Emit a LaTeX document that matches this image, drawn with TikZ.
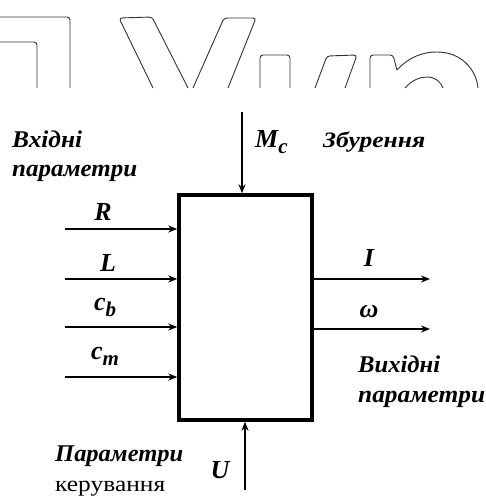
\documentclass[tikz,border=0pt]{standalone}
\usepackage{fontspec}
\usepackage{graphicx}
\setmainfont{Liberation Serif}
\usetikzlibrary{arrows.meta}
\newcommand{\fitw}[2]{\resizebox{#1}{\height}{#2}}
\tikzset{
  arr/.style={line width=2.2pt, -{Stealth[length=9pt,width=7pt]}},
  varr/.style={line width=1.5pt, -{Stealth[length=9pt,width=7pt]}},
  sym/.style={font=\fontsize{26}{28}\selectfont\bfseries\itshape, inner sep=0pt},
  lbl/.style={font=\fontsize{24}{26}\selectfont\bfseries\itshape, inner sep=0pt, anchor=base west},
  outl/.style={line width=0.9pt, draw=black!80, rounded corners=3pt},
}
\begin{document}
\begin{tikzpicture}[x=1pt,y=-1pt]
\fill[white] (0,0) rectangle (486,497);
\useasboundingbox (0,0) rectangle (486,497);
% cropped outline lettering at the top
\draw[outl] (0,17) -- (70,17) -- (70,88);
\draw[outl] (0,42) -- (37,42) -- (37,88);
\draw[outl] (153,88) -- (119,18) -- (152,17) -- (188,88);
\draw[outl] (193,88) -- (224,18) -- (256,18) -- (228,88);
\draw[outl] (260,88) -- (260,55) -- (290,55) -- (290,88);
\draw[outl] (315,88) -- (327,56) -- (357,55) -- (345,88);
\draw[outl] (370,88) -- (370,55) -- (393,55) -- (397,70);
\draw[line width=0.9pt, draw=black!80] (397,70) .. controls (410,56) and (424,52) .. (437,52) .. controls (460,52) and (476,68) .. (478,88);
\draw[line width=0.9pt, draw=black!80] (405,88) .. controls (412,80) and (420,77) .. (427,77) .. controls (435,77) and (441,82) .. (443,88);
% block
\node[draw, line width=3.5pt, minimum width=133pt, minimum height=225pt, inner sep=0pt] (sys) at (245.5,307.5) {};
% inputs
\coordinate (inR) at (65,229);
\coordinate (inL) at (65,279);
\coordinate (inB) at (65,327);
\coordinate (inM) at (65,377);
\draw[arr] (inR) -- (inR -| sys.west);
\draw[arr] (inL) -- (inL -| sys.west);
\draw[arr] (inB) -- (inB -| sys.west);
\draw[arr] (inM) -- (inM -| sys.west);
\node[sym] (lR) at (103,212) {R};
\node[sym] (lL) at (108,263) {L};
\node[sym, anchor=west] (lB) at (94,307) {c\raisebox{-6pt}{\fontsize{21}{22}\selectfont b}};
\node[sym, anchor=west] (lM) at (91,356) {c\raisebox{-6pt}{\fontsize{21}{22}\selectfont m}};
\node[lbl] (tin1) at (12,147) {\fitw{70pt}{Вхідні}};
\node[lbl] (tin2) at (12,176) {\fitw{125pt}{параметри}};
% disturbance
\coordinate (dtop) at (242,112);
\draw[varr] (dtop) -- (dtop |- sys.north);
\node[sym, anchor=west] (lMc) at (255,142) {M\raisebox{-6pt}{\fontsize{21}{22}\selectfont c}};
\node[lbl, font=\fontsize{22}{24}\selectfont\bfseries\itshape] (tdist) at (323,148) {\fitw{102pt}{Збурення}};
% outputs
\coordinate (oI) at (430,279);
\coordinate (oW) at (430,329);
\draw[arr] (oI -| sys.east) -- (oI);
\draw[arr] (oW -| sys.east) -- (oW);
\node[sym] (lI) at (369,258) {I};
\node[sym] (lW) at (369,312) {ω};
\node[lbl] (tout1) at (358,372) {\fitw{82pt}{Вихідні}};
\node[lbl] (tout2) at (358,402) {\fitw{127pt}{параметри}};
% control
\coordinate (cbot) at (245,490);
\draw[varr] (cbot) -- (cbot |- sys.south);
\node[sym] (lU) at (220,470) {U};
\node[lbl] (tc1) at (55,461) {\fitw{128pt}{Параметри}};
\node[lbl, font=\fontsize{22}{24}\selectfont] (tc2) at (55,491) {\fitw{110pt}{керування}};
\end{tikzpicture}
\end{document}
